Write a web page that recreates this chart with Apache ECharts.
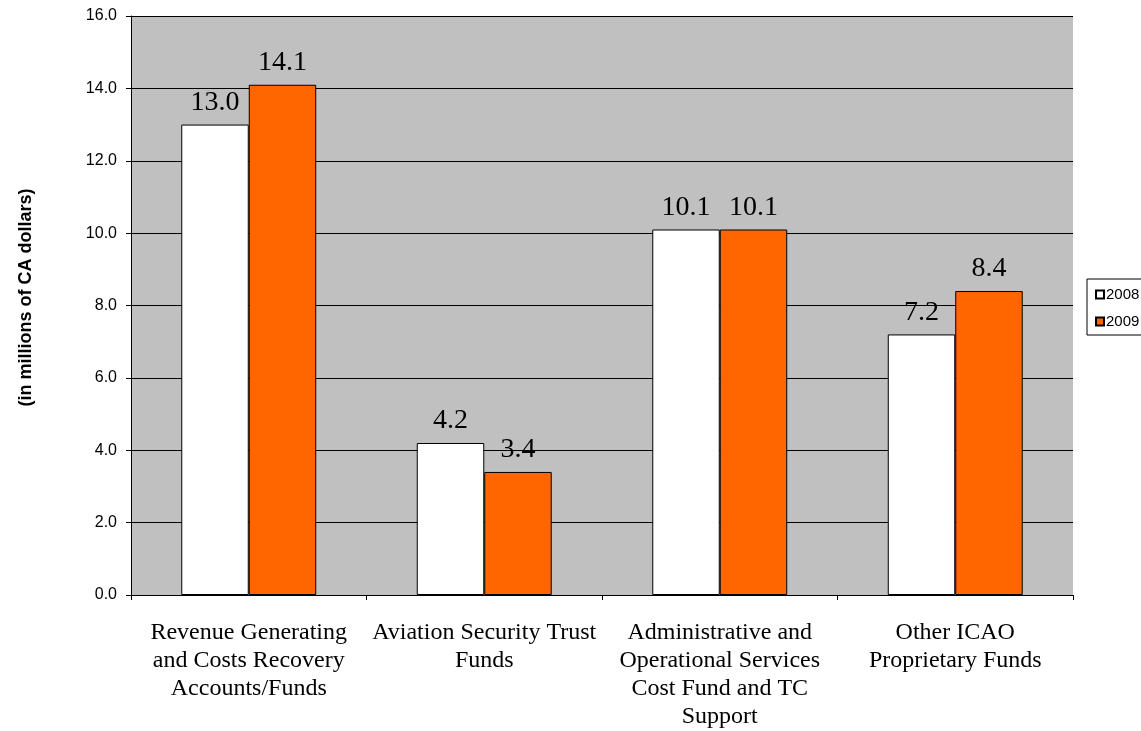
<!DOCTYPE html>
<html><head><meta charset="utf-8">
<script src="https://cdn.jsdelivr.net/npm/echarts@6/dist/echarts.min.js"></script>
<style>html,body{margin:0;padding:0;background:#fff}#c{width:1141px;height:731px}</style>
</head><body><div id="c"></div>
<script>
const categories = [
  "Revenue Generating\nand Costs Recovery\nAccounts/Funds",
  "Aviation Security Trust\nFunds",
  "Administrative and\nOperational Services\nCost Fund and TC\nSupport",
  "Other ICAO\nProprietary Funds"
];
const values2008 = [13.0, 4.2, 10.1, 7.2];
const values2009 = [14.1, 3.4, 10.1, 8.4];
const seriesNames = ["2008", "2009"];
const yAxisTitle = "(in millions of CA dollars)";

const chart = echarts.init(document.getElementById('c'));
const labelStyle = {
  show: true, position: 'top', distance: 8,
  fontFamily: 'Liberation Serif, Times New Roman, serif', fontSize: 28, color: '#000',
  formatter: p => p.value.toFixed(1)
};
chart.setOption({
  animation: false,
  grid: { left: 131, right: 68, top: 16, bottom: 134, backgroundColor: '#C0C0C0', show: true, borderWidth: 0 },
  legend: {
    orient: 'vertical', left: 1087, top: 279,
    borderColor: '#000', borderWidth: 1, padding: [8, 12, 6, 8],
    itemGap: 12, itemWidth: 8, itemHeight: 8, icon: 'rect',
    textStyle: { fontFamily: 'Liberation Sans, Arial, sans-serif', fontSize: 15, color: '#000', padding: [0, 0, 0, -3] },
    data: seriesNames
  },
  xAxis: {
    type: 'category', data: categories,
    axisLine: { lineStyle: { color: '#000', width: 1 } },
    axisTick: { show: true, length: 5, lineStyle: { color: '#000' } },
    axisLabel: {
      interval: 0, margin: 24, color: '#000',
      fontFamily: 'Liberation Serif, Times New Roman, serif', fontSize: 24, lineHeight: 28
    }
  },
  yAxis: {
    type: 'value', min: 0, max: 16, interval: 2,
    name: yAxisTitle, nameLocation: 'middle', nameGap: 96,
    nameTextStyle: { fontFamily: 'Liberation Sans, Arial, sans-serif', fontSize: 18, fontWeight: 'bold', color: '#000', padding: [0, 0, 0, 16] },
    axisLine: { show: true, lineStyle: { color: '#000' } },
    axisTick: { show: true, length: 5, lineStyle: { color: '#000' } },
    splitLine: { lineStyle: { color: '#000', width: 1 } },
    axisLabel: {
      margin: 14, color: '#000',
      fontFamily: 'Liberation Sans, Arial, sans-serif', fontSize: 16,
      formatter: v => v.toFixed(1)
    }
  },
  series: [
    { name: seriesNames[0], type: 'bar', data: values2008, barGap: '0%', barCategoryGap: '42.7%',
      itemStyle: { color: '#FFFFFF', borderColor: '#000', borderWidth: 1 }, label: labelStyle },
    { name: seriesNames[1], type: 'bar', data: values2009, barGap: '0%', barCategoryGap: '42.7%',
      itemStyle: { color: '#FF6600', borderColor: '#000', borderWidth: 1 }, label: labelStyle }
  ]
});
</script></body></html>
